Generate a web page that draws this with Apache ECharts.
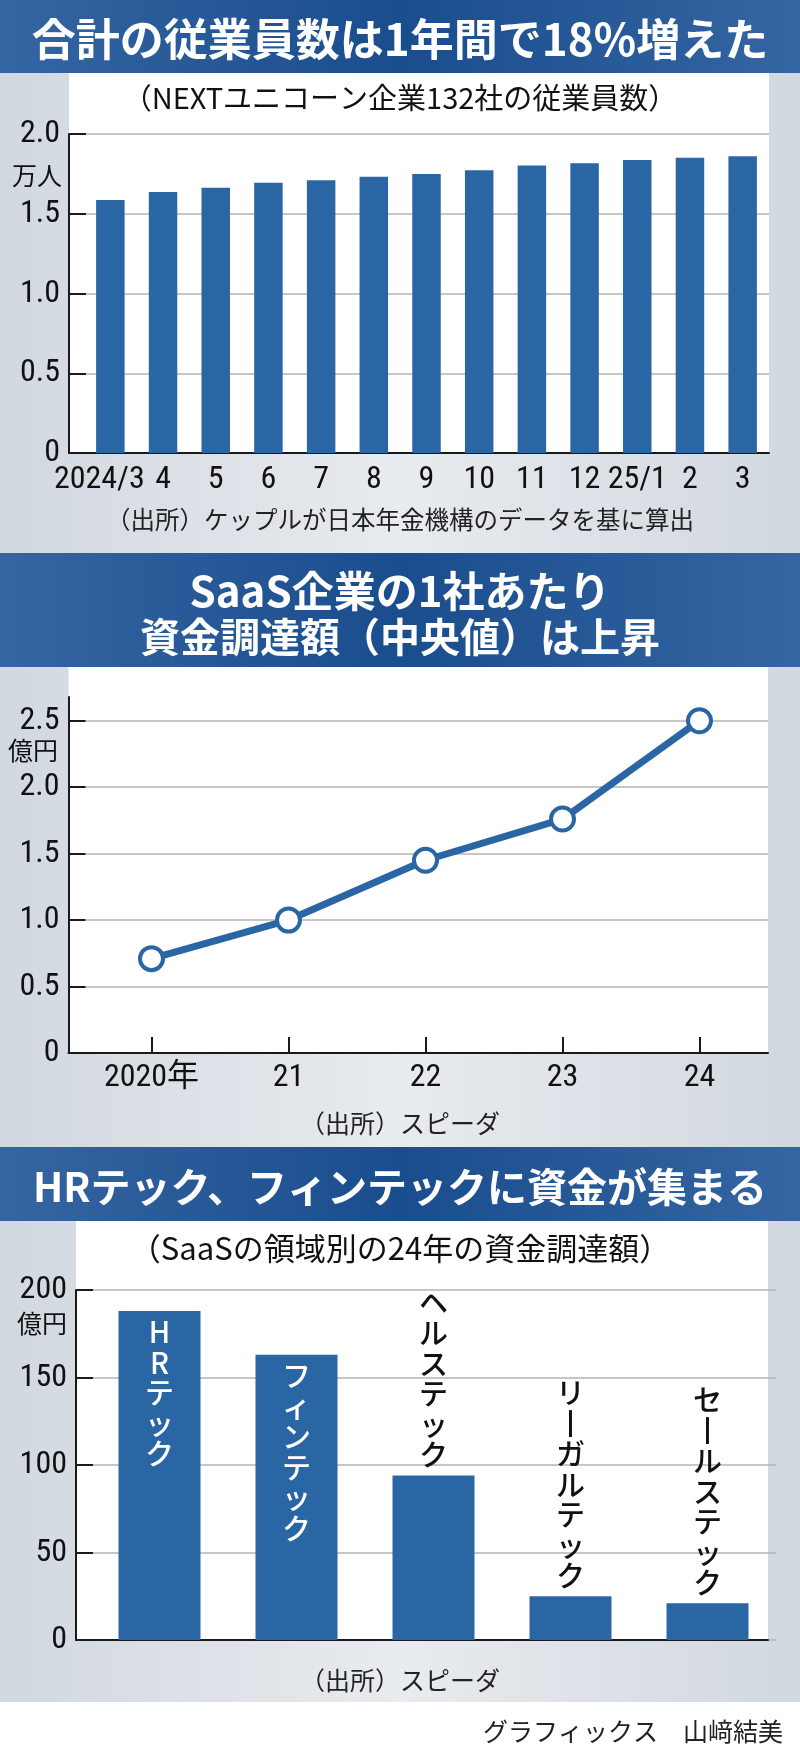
<!DOCTYPE html>
<html><head><meta charset="utf-8">
<script src="https://cdn.jsdelivr.net/npm/echarts@6/dist/echarts.min.js"></script>
<style>html,body{margin:0;padding:0;background:#fff}#c{width:800px;height:1754px}</style>
</head><body><div id="c"></div>
<script>
// ---------- data ----------
const empMonths = ['2024/3','4','5','6','7','8','9','10','11','12','25/1','2','3'];
const empValues = [1.586,1.636,1.663,1.695,1.71,1.732,1.75,1.772,1.803,1.816,1.837,1.851,1.86];
const empAxis = { min: 0, max: 2.0, interval: 0.5 };
const fundYears = ['2020年','21','22','23','24'];
const fundMedian = [0.71,1.0,1.45,1.76,2.5];
const fundAxis = { min: 0, max: 2.5, interval: 0.5 };
const sectors = ['HRテック','フィンテック','ヘルステック','リーガルテック','セールステック'];
const sectorFunding = [188,163,94,25,21];
const sectorAxis = { min: 0, max: 200, interval: 50 };

const titles = {
  t1: '合計の従業員数は1年間で18%増えた',
  s1: '（NEXTユニコーン企業132社の従業員数）',
  src1: '（出所）ケップルが日本年金機構のデータを基に算出',
  t2a: 'SaaS企業の1社あたり',
  t2b: '資金調達額（中央値）は上昇',
  src2: '（出所）スピーダ',
  t3: 'HRテック、フィンテックに資金が集まる',
  s3: '（SaaSの領域別の24年の資金調達額）',
  src3: '（出所）スピーダ',
  unit1: '万人', unit2: '億円', unit3: '億円',
  credit: 'グラフィックス　山﨑結美'
};

// ---------- fonts ----------
const JP = '"Noto Sans CJK JP", "Noto Sans", sans-serif';
function fontAvailable(name) {
  const ctx = document.createElement('canvas').getContext('2d');
  const s = '2024/3 0123456789.';
  for (const base of ['monospace', 'serif']) {
    ctx.font = '40px ' + base;
    const w0 = ctx.measureText(s).width;
    ctx.font = '40px "' + name + '", ' + base;
    if (Math.abs(ctx.measureText(s).width - w0) > 0.5) return true;
  }
  return false;
}
const narrowCands = ['Liberation Sans Narrow', 'Noto Sans Condensed', 'Roboto Condensed', 'DejaVu Sans Condensed',
  'Nimbus Sans Narrow', 'Arial Narrow', 'Open Sans Condensed', 'Noto Sans Display Condensed'];
let narrow = narrowCands.find(fontAvailable);
const NUM = narrow ? '"' + narrow + '", "Noto Sans CJK JP", sans-serif' : 'Roboto, "Noto Sans CJK JP", sans-serif';
const NUMSIZE = narrow ? 32 : 30;

// ---------- style / layout ----------
const W = 800;
const BLUE = '#2b66a4';
const DARK = '#1a1a1a';
const GRIDC = '#b3b3b3';

const L1 = { axisX: 69, dataX: 84, right: 769, top: 134, bottom: 453, bandTop: 73 };
const L2 = { axisX: 68.5, dataX: 83, right: 768, lineTop: 697, top: 720.7, bottom: 1053, bandTop: 667 };
const L3 = { axisX: 76, dataX: 91, right: 768, dataRight: 776, top: 1290, bottom: 1640, bandTop: 1221 };
const H1 = [0, 73], H2 = [553, 667], H3 = [1147, 1221];
const PANEL_END = 1702;

const chart = echarts.init(document.getElementById('c'), null, { renderer: 'canvas' });

function grid(left, right, top, bottom) {
  return { left: left, width: right - left, top: top, height: bottom - top, containLabel: false, outerBoundsMode: 'none' };
}
const numLabel = { fontFamily: NUM, fontSize: NUMSIZE, color: '#111' };
const hidden = { show: false };

function bgY(gi, ax, fmt, margin) {
  return { gridIndex: gi, type: 'value', min: ax.min, max: ax.max, interval: ax.interval,
    axisLine: { show: true, lineStyle: { color: DARK, width: 2 } },
    axisTick: { show: true, inside: true, length: 17, lineStyle: { color: DARK, width: 2 } },
    splitLine: hidden,
    axisLabel: Object.assign({ margin: margin, formatter: fmt }, numLabel) };
}
function dataY(gi, ax) {
  return { gridIndex: gi, type: 'value', min: ax.min, max: ax.max, interval: ax.interval,
    axisLine: hidden, axisTick: hidden, axisLabel: hidden,
    splitLine: { show: true, lineStyle: { color: GRIDC, width: 1.5 } } };
}
function bgX(gi) {
  return { gridIndex: gi, type: 'value', min: 0, max: 1,
    axisLine: { show: true, lineStyle: { color: DARK, width: 2 } },
    axisTick: hidden, axisLabel: hidden, splitLine: hidden };
}
const dec1 = v => (v === 0 ? '0' : v.toFixed(1));
const int0 = v => String(v);

const headerFill = { type: 'linear', x: 0, y: 0, x2: 1, y2: 0,
  colorStops: [{ offset: 0, color: '#3565a2' }, { offset: 0.5, color: '#1a4d8d' }, { offset: 1, color: '#3565a2' }] };
const panelFill = { type: 'linear', x: 0, y: 0, x2: 1, y2: 0,
  colorStops: [{ offset: 0, color: '#d2d8e0' }, { offset: 0.5, color: '#e8ebef' }, { offset: 1, color: '#d2d8e0' }] };

function rect(x, y, w, h, fill) { return { type: 'rect', silent: true, z: -10, shape: { x: x, y: y, width: w, height: h }, style: { fill: fill } }; }
function txt(text, x, y, font, fill, align) {
  return { type: 'text', silent: true, z: 10, style: { text: text, x: x, y: y, font: font, fill: fill, align: align || 'center', verticalAlign: 'middle' } };
}

// vertical writing: one glyph per line, long-vowel mark turned upright
const vertical = name => name.split('').map(c => (c === 'ー' ? '丨' : c)).join('\n');

const option = {
  animation: false,
  backgroundColor: '#ffffff',
  graphic: [
    rect(0, 0, W, PANEL_END, panelFill),
    rect(0, PANEL_END, W, 1754 - PANEL_END, '#ffffff'),
    rect(L1.axisX, L1.bandTop, L1.right - L1.axisX, L1.bottom - L1.bandTop, '#ffffff'),
    rect(L2.axisX, L2.bandTop, L2.right - L2.axisX, L2.bottom - L2.bandTop, '#ffffff'),
    rect(L3.axisX, L3.bandTop, L3.right - L3.axisX, L3.bottom - L3.bandTop, '#ffffff'),
    rect(0, H1[0], W, H1[1] - H1[0], headerFill),
    rect(0, H2[0], W, H2[1] - H2[0], headerFill),
    rect(0, H3[0], W, H3[1] - H3[0], headerFill),
    txt(titles.t1, 400, 39, 'bold 44px ' + JP, '#ffffff'),
    txt(titles.s1, 400, 98, '29px ' + JP, '#111'),
    txt(titles.unit1, 62, 175, '25px ' + JP, '#111', 'right'),
    txt(titles.src1, 400, 520, '24.5px ' + JP, '#222'),
    txt(titles.t2a, 400, 591, 'bold 42px ' + JP, '#ffffff'),
    txt(titles.t2b, 400, 637, 'bold 40px ' + JP, '#ffffff'),
    txt(titles.unit2, 58, 750, '25px ' + JP, '#111', 'right'),
    txt(titles.src2, 400, 1123, '25px ' + JP, '#222'),
    txt(titles.t3, 400, 1187, 'bold 40px ' + JP, '#ffffff'),
    txt(titles.s3, 400, 1248, '31px ' + JP, '#111'),
    txt(titles.unit3, 67, 1323, '25px ' + JP, '#111', 'right'),
    txt(titles.src3, 400, 1680, '25px ' + JP, '#222'),
    txt(titles.credit, 783, 1731, '25px ' + JP, '#222', 'right')
  ],
  grid: [
    grid(L1.dataX, L1.right, L1.top, L1.bottom),        // 0 chart1 data
    grid(L1.axisX, L1.right, L1.top, L1.bottom),        // 1 chart1 axes
    grid(L2.dataX, L2.right, L2.top, L2.bottom),        // 2 chart2 data
    grid(L2.axisX, L2.right, L2.top, L2.bottom),        // 3 chart2 labels/ticks
    grid(L2.axisX, L2.right, L2.lineTop, L2.bottom),    // 4 chart2 axis line
    grid(L3.dataX, L3.dataRight, L3.top, L3.bottom),    // 5 chart3 data
    grid(L3.axisX, L3.right, L3.top, L3.bottom)         // 6 chart3 axes
  ],
  xAxis: [
    { gridIndex: 0, type: 'category', data: empMonths, boundaryGap: true,
      axisLine: hidden, axisTick: hidden, splitLine: hidden,
      axisLabel: Object.assign({ interval: 0, margin: 11, hideOverlap: false,
        formatter: (v, i) => (i === 0 ? '{first|' + v + '}' : v),
        rich: { first: { fontFamily: NUM, fontSize: NUMSIZE, color: '#111', padding: [0, narrow ? 22 : 30, 0, 0] } }
      }, numLabel) },
    bgX(1),
    { gridIndex: 2, type: 'category', data: fundYears, boundaryGap: true,
      axisLine: hidden, splitLine: hidden,
      axisTick: { show: true, inside: true, alignWithLabel: true, length: 16, lineStyle: { color: DARK, width: 2 } },
      axisLabel: Object.assign({ interval: 0, margin: 9 }, numLabel) },
    bgX(3),
    { gridIndex: 4, type: 'value', min: 0, max: 1, show: false },
    { gridIndex: 5, type: 'category', data: sectors, boundaryGap: true,
      axisLine: hidden, axisTick: hidden, axisLabel: hidden, splitLine: hidden },
    bgX(6)
  ],
  yAxis: [
    dataY(0, empAxis),
    bgY(1, empAxis, dec1, 9),
    dataY(2, fundAxis),
    bgY(3, fundAxis, dec1, 9),
    { gridIndex: 4, type: 'value', min: 0, max: 1,
      axisLine: { show: true, lineStyle: { color: DARK, width: 2 } },
      axisTick: hidden, axisLabel: hidden, splitLine: hidden },
    dataY(5, sectorAxis),
    bgY(6, sectorAxis, int0, 9)
  ],
  series: [
    { type: 'bar', xAxisIndex: 0, yAxisIndex: 0, data: empValues, barWidth: 28.5,
      itemStyle: { color: BLUE } },
    { type: 'line', xAxisIndex: 2, yAxisIndex: 2, data: fundMedian, clip: false,
      lineStyle: { color: BLUE, width: 7 },
      symbol: 'circle', symbolSize: 23, showAllSymbol: true,
      itemStyle: { color: '#ffffff', borderColor: BLUE, borderWidth: 4 } },
    { type: 'bar', xAxisIndex: 5, yAxisIndex: 5, barWidth: 82,
      itemStyle: { color: BLUE },
      data: sectorFunding.map(v => {
        const inside = v > sectorAxis.max * 0.6;
        return { value: v, label: {
          show: true,
          position: inside ? 'insideTop' : 'top',
          distance: inside ? 6 : 5,
          color: inside ? '#ffffff' : '#111111',
          fontFamily: JP, fontSize: 29, lineHeight: 30.5, fontWeight: 500,
          align: 'center',
          formatter: p => vertical(sectors[p.dataIndex])
        } };
      }) }
  ]
};
chart.setOption(option);
</script>
</body></html>
